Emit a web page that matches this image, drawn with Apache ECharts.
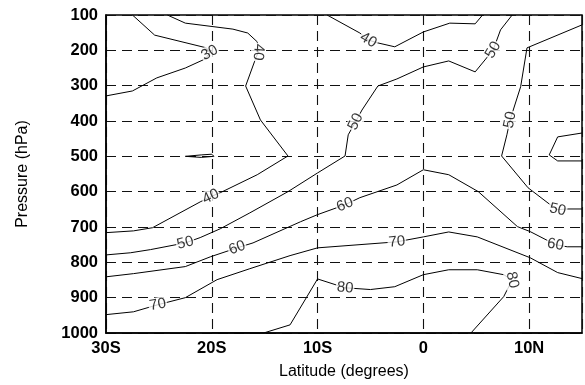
<!DOCTYPE html>
<html>
<head>
<meta charset="utf-8">
<script src="https://cdn.jsdelivr.net/npm/echarts@6/dist/echarts.min.js"></script>
<style>
  html, body { margin: 0; padding: 0; background: #fff; }
  #chart { width: 585px; height: 385px; }
</style>
</head>
<body>
<div id="chart"></div>
<script>
// Relative humidity (%) contours, latitude vs pressure.
// Each contour is a polyline of [latitude (deg, S negative), pressure (hPa)].
const xTickLabels = ['30S', '20S', '10S', '0', '10N'];
const yTickLabels = ['100', '200', '300', '400', '500', '600', '700', '800', '900', '1000'];

const c30 = [[-27.5,100],[-25.4,157],[-20.5,193],[-20.2,207],[-20.6,224],[-22.5,250],[-25.2,278],[-27.5,315],[-30,329]];
const c30sliver = [[-22.5,500],[-21,496],[-20,494],[-19.8,500],[-21,503],[-22.5,500]];
const c40west = [[-24.2,100],[-22.5,123],[-18,140],[-16.6,151],[-15.7,176],[-15.6,205],[-15.9,227],[-16.8,301],[-15.4,397],[-12.8,499],[-15.7,552],[-19.2,603],[-20.1,614],[-21.1,629],[-25.6,702],[-27.4,711],[-30,716]];
const c40top = [[-9.1,100],[-6.0,151],[-5.2,171],[-4.3,179],[-2.7,190],[0,148],[2.5,123],[4.9,125],[5.6,100]];
const c50main = [[-30,779],[-27.7,773],[-25.8,764],[-22.5,745],[-21.1,730],[-19.2,705],[-16.4,660],[-12.8,600],[-10,547],[-7.4,499],[-7.1,439],[-6.4,402],[-5.8,369],[-4.3,301],[-2.5,281],[0,247],[2.4,230],[4.9,261],[6.6,199],[7.3,142],[8.4,100]];
const c50east = [[15,128],[9.8,193],[9.2,303],[8.2,397],[7.9,439],[7.4,499],[9.9,589],[12,637],[12.7,651],[13.6,649],[15,649]];
const c50edge = [[15,434],[12.7,445],[11.9,496],[12.7,513],[15,513]];
const c60 = [[-30,841],[-27.4,832],[-22.5,812],[-20.1,784],[-17.6,759],[-16.1,745],[-11.6,685],[-10,665],[-7.4,637],[-6,617],[-2.5,581],[0,538],[2.4,552],[5.2,600],[8.9,699],[10.1,713],[12.5,750],[13.6,756],[15,756]];
const c70 = [[-30,948],[-27.4,940],[-25.1,920],[-22.5,900],[-19.5,849],[-16.4,818],[-12.6,781],[-10,759],[-2.5,742],[0,728],[2.4,714],[5.1,728],[10.1,787],[12.7,829],[15,846]];
const c80 = [[-20,1000],[-15.1,1000],[-12.6,977],[-10,847],[-7.4,872],[-5,877],[-2.7,869],[0,835],[2.4,821],[5.1,821],[7.6,835],[8.4,850],[7.6,897],[4.5,1000]];

// Contour label positions: [latitude, pressure, level]
const contourLabels = [
  [-20.2, 207, 30], [-15.6, 205, 40], [-20.1, 614, 40], [-5.2, 171, 40],
  [-22.5, 745, 50], [-6.4, 402, 50], [6.6, 199, 50], [8.2, 397, 50], [12.7, 651, 50],
  [-17.6, 759, 60], [-7.4, 637, 60], [12.5, 750, 60],
  [-25.1, 920, 70], [-2.5, 742, 70],
  [-7.4, 872, 80], [8.4, 850, 80]
];

// Text tilt (degrees, anticlockwise) for each contour label, in the same order.
const labelTilt = [30, -95, 25, -30, 15, 65, 60, 78, -12, 20, 22, -10, 10, 5, -5, -78];

const contours = [c30, c30sliver, c40west, c40top, c50main, c50east, c50edge, c60, c70, c80];

const FONT = '"Liberation Sans", Arial, Helvetica, sans-serif';
const dash = { color: '#111', width: 1.1, type: [10, 6] };

const lineSeries = contours.map(pts => ({
  type: 'line',
  data: pts,
  showSymbol: false,
  symbol: 'none',
  silent: true,
  z: 3,
  lineStyle: { color: '#000', width: 1 }
}));

const labelSeries = {
  type: 'scatter',
  z: 6,
  silent: true,
  symbolSize: 1,
  itemStyle: { color: 'rgba(0,0,0,0)' },
  label: {
    show: true,
    position: 'inside',
    formatter: p => String(p.value[2]),
    color: '#000',
    fontFamily: FONT,
    fontSize: 15,
    backgroundColor: '#fff',
    padding: [0, 1]
  },
  data: contourLabels.map((d, i) => ({ value: d, label: { rotate: labelTilt[i] } }))
};

const chart = echarts.init(document.getElementById('chart'), null, { renderer: 'canvas' });
chart.setOption({
  animation: false,
  backgroundColor: '#fff',
  grid: { left: 106, right: 3, top: 15, bottom: 52, show: true, borderColor: '#000', borderWidth: 1.5, backgroundColor: 'transparent' },
  xAxis: {
    type: 'value',
    min: -30, max: 15, interval: 10,
    name: 'Latitude (degrees)',
    nameLocation: 'middle',
    nameGap: 31,
    nameTextStyle: { color: '#000', fontFamily: FONT, fontSize: 16 },
    axisLine: { show: true, onZero: false, lineStyle: { color: '#000', width: 1.5 } },
    axisTick: { show: false },
    axisLabel: {
      color: '#000', fontFamily: FONT, fontSize: 16.5, fontWeight: 'bold', margin: 7,
      formatter: v => xTickLabels[Math.round((v + 30) / 10)] ?? ''
    },
    splitLine: { show: true, lineStyle: dash }
  },
  yAxis: {
    type: 'value',
    inverse: true,
    min: 100, max: 1000, interval: 100,
    name: 'Pressure (hPa)',
    nameLocation: 'middle',
    nameGap: 75,
    nameTextStyle: { color: '#000', fontFamily: FONT, fontSize: 16 },
    axisLine: { show: true, onZero: false, lineStyle: { color: '#000', width: 1.5 } },
    axisTick: { show: false },
    axisLabel: {
      color: '#000', fontFamily: FONT, fontSize: 16.5, fontWeight: 'bold', margin: 8,
      formatter: v => yTickLabels[Math.round((v - 100) / 100)] ?? ''
    },
    splitLine: { show: true, lineStyle: dash }
  },
  series: [...lineSeries, labelSeries]
});
</script>
</body>
</html>
